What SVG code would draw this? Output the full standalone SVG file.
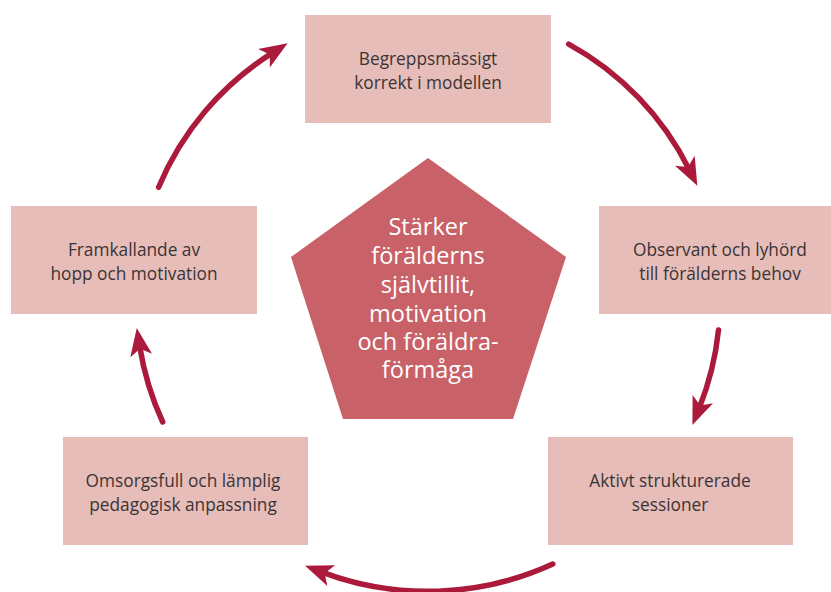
<svg xmlns="http://www.w3.org/2000/svg" width="831" height="592" viewBox="0 0 831 592">
  <style>
    .box { fill: #e7bdba; }
    .label { font-family: "Open Sans", "Noto Sans", "DejaVu Sans", sans-serif; font-size: 17.3px; fill: #3b3434; text-anchor: middle; }
    .core { fill: #c86268; }
    .core-label { font-family: "Open Sans", "Noto Sans", "DejaVu Sans", sans-serif; font-size: 23.5px; fill: #ffffff; text-anchor: middle; }
    .flow { fill: none; stroke: #ab1a3b; stroke-width: 5.5; stroke-linecap: round; marker-end: url(#head); }
  </style>
  <defs>
    <marker id="head" markerUnits="userSpaceOnUse" markerWidth="34" markerHeight="30" viewBox="-2 -14 34 28" refX="10" refY="0" orient="auto">
      <path d="M0,-11 L28,0 L0,11 L7,0 Z" fill="#ab1a3b"/>
    </marker>
  </defs>

  <!-- cycle arrows, all on one circle around the centre -->
  <g id="connectors">
    <path class="flow" d="M158.6,187.3 A292,292 0 0 1 272.4,52.9"/>
    <path class="flow" d="M568.7,44.1 A292,292 0 0 1 689.3,169.7"/>
    <path class="flow" d="M718.5,330.0 A292,292 0 0 1 699.1,408.4"/>
    <path class="flow" d="M552.8,564.0 A300,300 0 0 1 321.9,572.1"/>
    <path class="flow" d="M162.7,422.0 A292,292 0 0 1 139.6,345.7"/>
  </g>

  <g id="node-begrepp">
    <rect class="box" x="305" y="15" width="246" height="108"/>
    <text class="label" x="428" y="65">Begreppsmässigt</text>
    <text class="label" x="428" y="89">korrekt i modellen</text>
  </g>

  <g id="node-observant">
    <rect class="box" x="599" y="206" width="246" height="108"/>
    <text class="label" x="720" y="256">Observant och lyhörd</text>
    <text class="label" x="720" y="280">till förälderns behov</text>
  </g>

  <g id="node-aktivt">
    <rect class="box" x="548" y="437" width="245" height="108"/>
    <text class="label" x="670" y="487">Aktivt strukturerade</text>
    <text class="label" x="670" y="511">sessioner</text>
  </g>

  <g id="node-omsorg">
    <rect class="box" x="63" y="437" width="245" height="108"/>
    <text class="label" x="183" y="487">Omsorgsfull och lämplig</text>
    <text class="label" x="183" y="511">pedagogisk anpassning</text>
  </g>

  <g id="node-framkallande">
    <rect class="box" x="11" y="206" width="246" height="108"/>
    <text class="label" x="134" y="256">Framkallande av</text>
    <text class="label" x="134" y="280">hopp och motivation</text>
  </g>

  <g id="node-center">
    <polygon class="core" points="428,158 566,257 513,419 343,419 291,257"/>
    <text class="core-label" x="428" y="235">Stärker</text>
    <text class="core-label" x="428" y="264">förälderns</text>
    <text class="core-label" x="428" y="293">självtillit,</text>
    <text class="core-label" x="428" y="322">motivation</text>
    <text class="core-label" x="428" y="350">och föräldra-</text>
    <text class="core-label" x="428" y="378">förmåga</text>
  </g>
</svg>
